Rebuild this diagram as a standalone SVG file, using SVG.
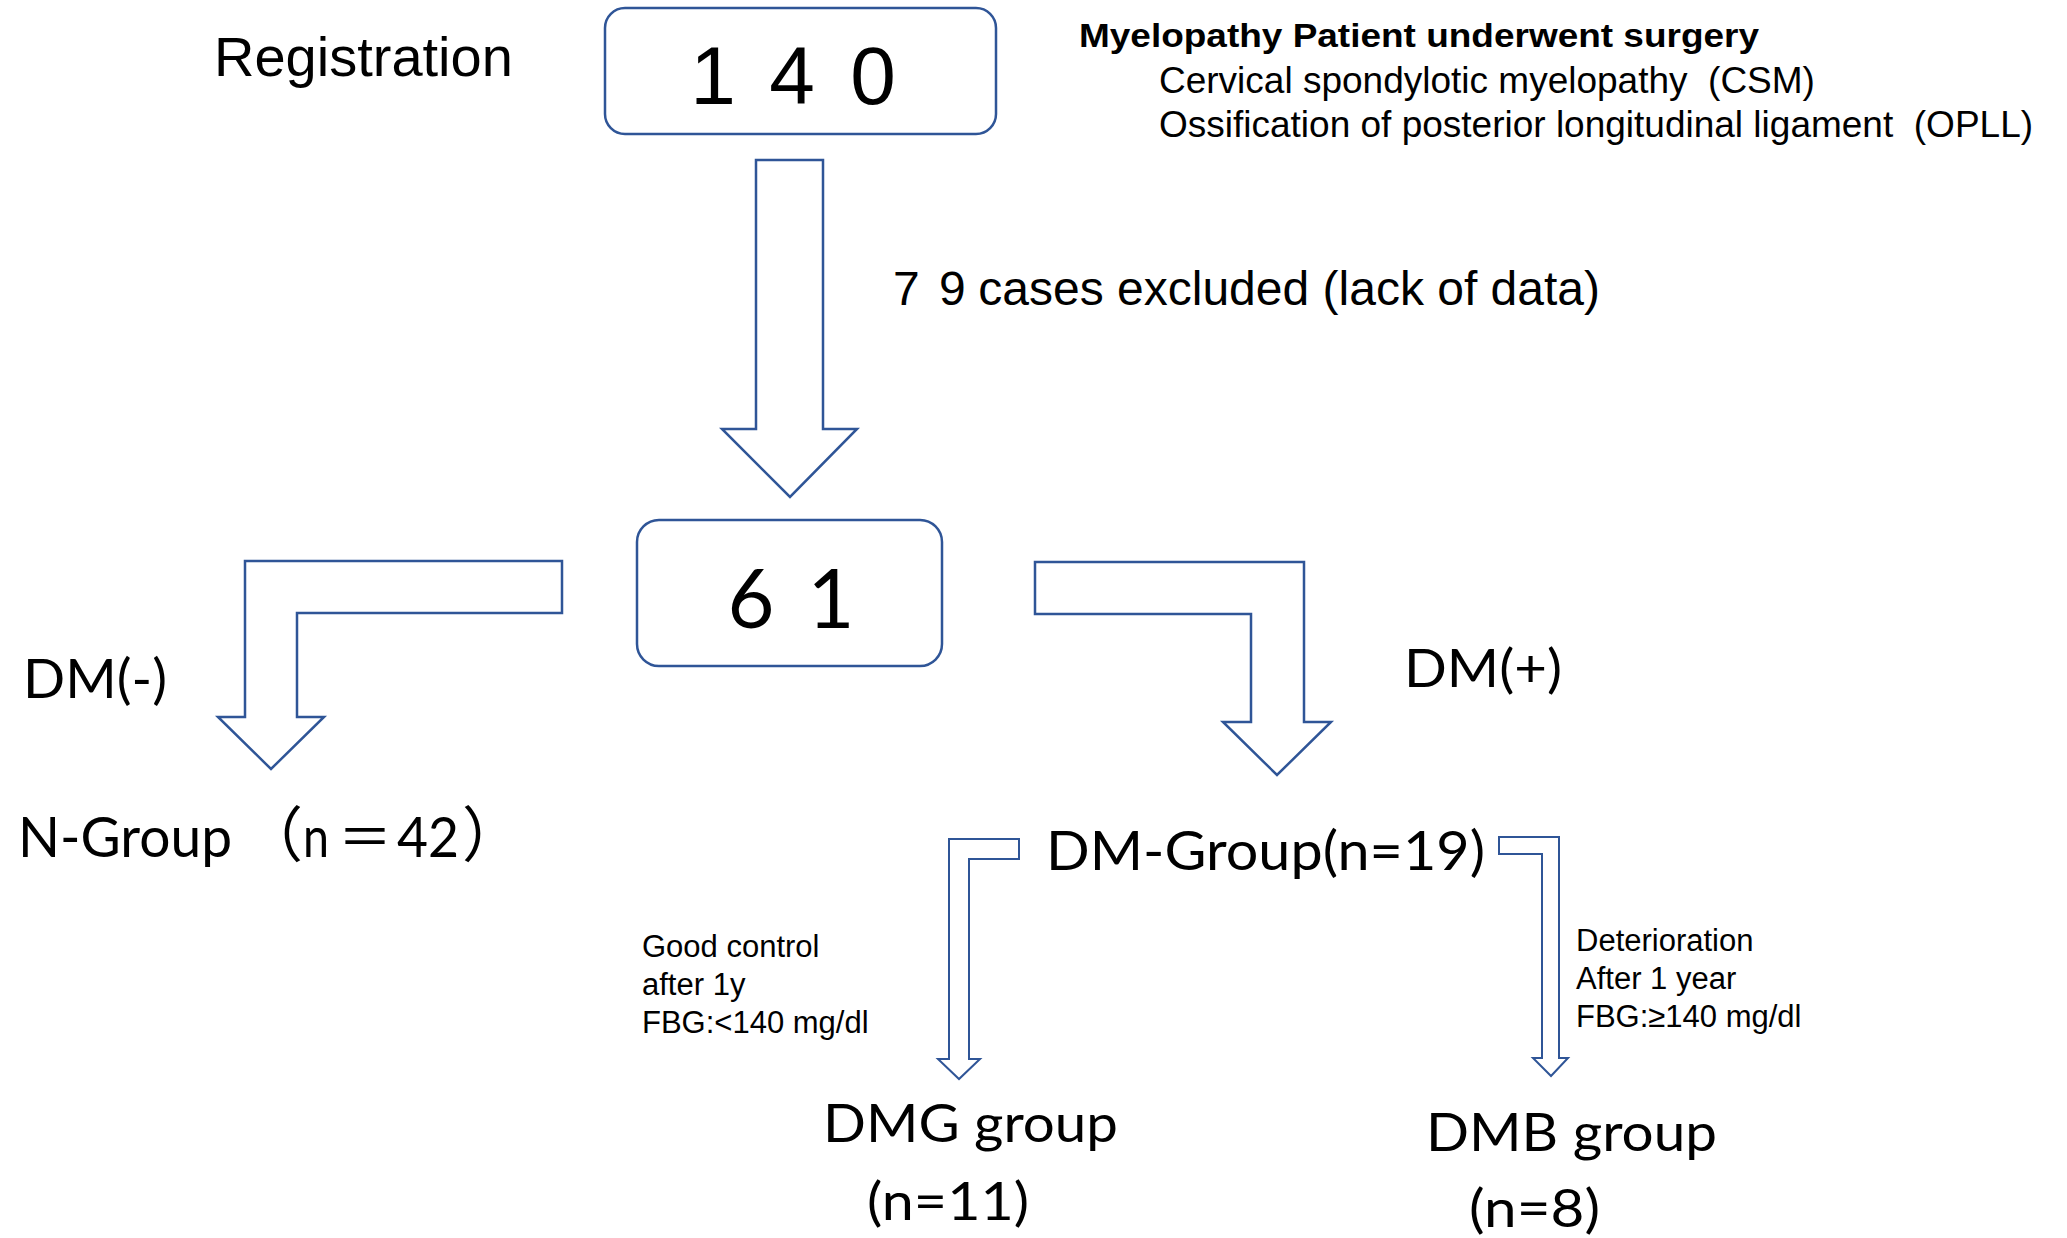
<svg xmlns="http://www.w3.org/2000/svg" width="2067" height="1238" viewBox="0 0 2067 1238">
<style>
.box{fill:#fff;stroke:#2F5597;stroke-width:2.5}
.arr{fill:#fff;stroke:#2F5597;stroke-width:2.5;stroke-linejoin:miter}
.arr2{fill:#fff;stroke:#2F5597;stroke-width:2;stroke-linejoin:miter}
.a{font-family:"Liberation Sans",Arial,sans-serif;fill:#000}
.c{font-family:Lato,"Liberation Sans",sans-serif;fill:#000}
.j{font-family:"Noto Sans CJK JP",sans-serif;fill:#000}
.pre{white-space:pre}
</style>
<rect width="2067" height="1238" fill="#fff"/>
<g id="connectors">
<polygon class="arr" points="756,160 823,160 823,429 857,429 790,497 722,429 756,429"/>
<polygon class="arr" points="562,561 245,561 245,717 218,717 271,769 324,717 297,717 297,613 562,613"/>
<polygon class="arr" points="1035,562 1304,562 1304,722 1331,722 1277,775 1223,722 1251,722 1251,614 1035,614"/>
<polygon class="arr2" points="1019,839 949,839 949,1059 938,1059 959,1079 980,1059 969,1059 969,859 1019,859"/>
<polygon class="arr2" points="1499,837 1559,837 1559,1058 1568,1058 1551,1076 1533,1058 1542,1058 1542,854 1499,854"/>
</g>
<g id="label-registration"><text class="a" x="214" y="76" font-size="56">Registration</text></g>
<g id="node-140">
<rect class="box" x="605" y="8" width="391" height="126" rx="20"/>
<text class="a" font-size="82" y="104" text-anchor="middle"><tspan x="713">1</tspan><tspan x="792">4</tspan><tspan x="873">0</tspan></text>
</g>
<g id="label-criteria">
<text class="a" x="1079" y="47" font-size="33" font-weight="bold" textLength="680" lengthAdjust="spacingAndGlyphs">Myelopathy Patient underwent surgery</text>
<text class="a pre" x="1159" y="93" font-size="37" xml:space="preserve">Cervical spondylotic myelopathy  (CSM)</text>
<text class="a pre" x="1159" y="137" font-size="37" xml:space="preserve">Ossification of posterior longitudinal ligament  (OPLL)</text>
</g>
<g id="label-excluded"><text class="a" y="305" font-size="48"><tspan x="893">7</tspan><tspan x="939">9</tspan><tspan x="965"> cases excluded (lack of data)</tspan></text></g>
<g id="node-61">
<rect class="box" x="637" y="520" width="305" height="146" rx="22"/>
<text class="c" font-size="81" y="628" text-anchor="middle"><tspan x="751">6</tspan><tspan x="831">1</tspan></text>
</g>
<g id="label-dm-neg"><text class="c" x="23" y="698" font-size="54" textLength="144" lengthAdjust="spacingAndGlyphs">DM(-)</text></g>
<g id="label-dm-pos"><text class="c" x="1404" y="687" font-size="53" textLength="158" lengthAdjust="spacingAndGlyphs">DM(+)</text></g>
<g id="node-n-group">
<text y="857" font-size="56"><tspan class="c" x="18" textLength="214" lengthAdjust="spacingAndGlyphs">N-Group</tspan><tspan class="j" x="243" font-size="60">（</tspan><tspan class="c" x="303" textLength="26" lengthAdjust="spacingAndGlyphs">n</tspan><tspan class="j" x="338" font-size="54">＝</tspan><tspan class="c" x="397" textLength="62" lengthAdjust="spacingAndGlyphs">42</tspan><tspan class="j" x="462" font-size="60">）</tspan></text>
</g>
<g id="node-dm-group"><text class="c" x="1046" y="870" font-size="54" textLength="439" lengthAdjust="spacingAndGlyphs">DM-Group(n=19)</text></g>
<g id="label-good">
<text class="a" x="642" font-size="31"><tspan x="642" y="957">Good control</tspan><tspan x="642" y="995">after 1y</tspan><tspan x="642" y="1033">FBG:&lt;140 mg/dl</tspan></text>
</g>
<g id="label-deterioration">
<text class="a" x="1576" font-size="31"><tspan x="1576" y="951">Deterioration</tspan><tspan x="1576" y="989">After 1 year</tspan><tspan x="1576" y="1027">FBG:≥140 mg/dl</tspan></text>
</g>
<g id="node-dmg">
<text class="c" x="823" y="1142" font-size="52" textLength="295" lengthAdjust="spacingAndGlyphs">DMG group</text>
<text class="c" x="867" y="1220" font-size="52" textLength="162" lengthAdjust="spacingAndGlyphs">(n=11)</text>
</g>
<g id="node-dmb">
<text class="c" x="1426" y="1151" font-size="52" textLength="291" lengthAdjust="spacingAndGlyphs">DMB group</text>
<text class="c" x="1469" y="1227" font-size="52" textLength="131" lengthAdjust="spacingAndGlyphs">(n=8)</text>
</g>
</svg>
